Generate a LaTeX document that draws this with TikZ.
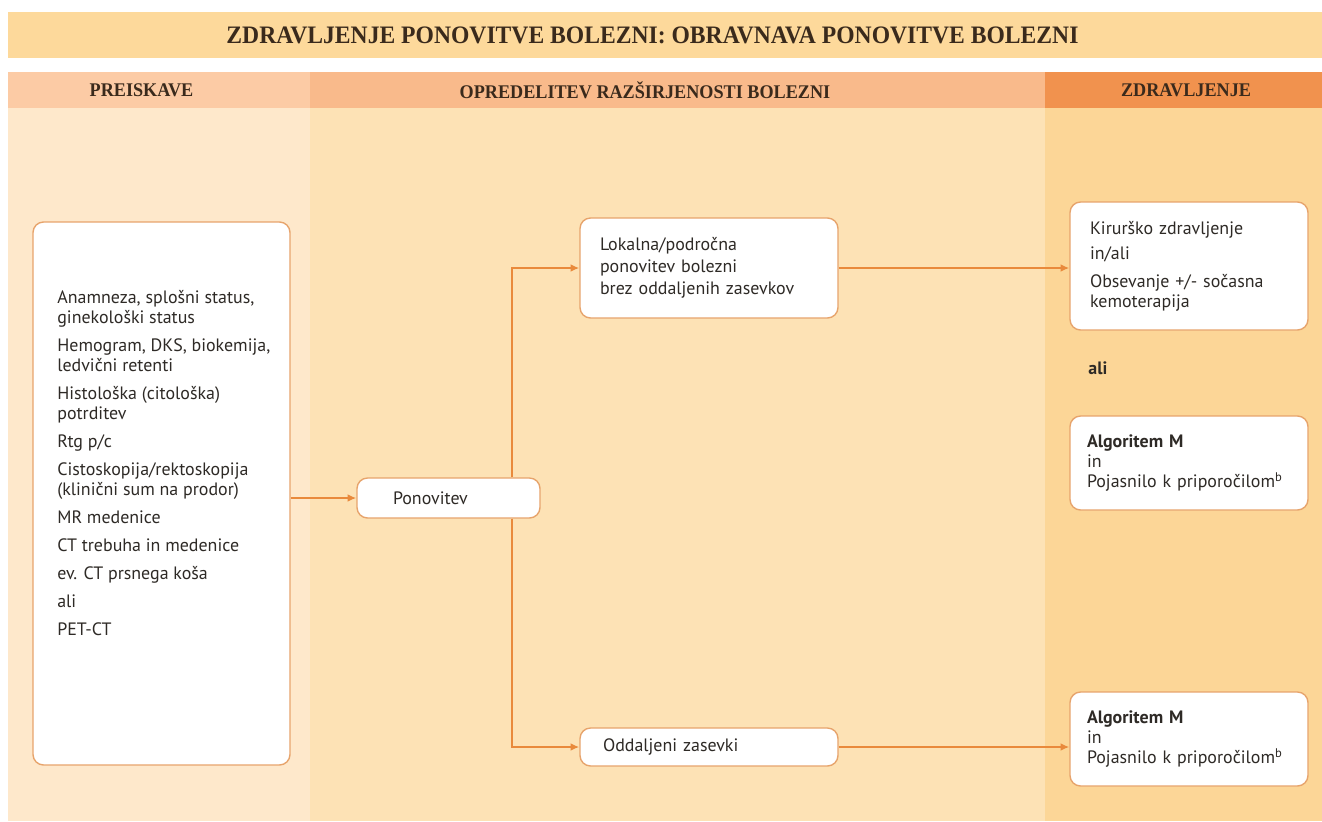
\documentclass[tikz,border=0pt]{standalone}
\usepackage{xcolor}
\usepackage{fontspec}
\usepackage{tikz}
\usetikzlibrary{arrows.meta}

\newfontfamily\bodyfont{PT Sans}
\newfontfamily\headfont[FakeStretch=0.94]{Liberation Serif}

\begin{document}
\begin{tikzpicture}[
  okvir/.style={draw=robBox, fill=white, rounded corners=6pt, line width=0.8pt,
    font=\bodyfont\fontsize{10.2}{11.4}\selectfont, text=besedilo, align=left,
    inner ysep=0pt},
  puscica/.style={draw=puscBarva, line width=1.1pt, -{Latex[length=5pt,width=4.5pt]}},
  naslov/.style={text=naslovBarva, inner sep=0pt}
]

% Barve ozadja in okvirjev
\definecolor{pasNaslov}{HTML}{FDD99B}
\definecolor{glavaLevo}{HTML}{FCCBA5}
\definecolor{glavaSredina}{HTML}{F9BA8B}
\definecolor{glavaDesno}{HTML}{F1924E}
\definecolor{stolpLevo}{HTML}{FEE8CB}
\definecolor{stolpSredina}{HTML}{FDE2B5}
\definecolor{stolpDesno}{HTML}{FCD697}
\definecolor{robBox}{HTML}{E7A46C}
\definecolor{puscBarva}{HTML}{E98A3C}
\definecolor{besedilo}{HTML}{2E2A26}
\definecolor{naslovBarva}{HTML}{3A2A1C}

\useasboundingbox (0,0) rectangle (26.44,-16.42);

% Ozadje
\fill[pasNaslov] (0.16,-0.24) rectangle (26.44,-1.16);
\fill[glavaLevo] (0.16,-1.44) rectangle (6.2,-2.16);
\fill[glavaSredina] (6.2,-1.44) rectangle (20.9,-2.16);
\fill[glavaDesno] (20.9,-1.44) rectangle (26.44,-2.16);
\fill[stolpLevo] (0.16,-2.16) rectangle (6.2,-16.42);
\fill[stolpSredina] (6.2,-2.16) rectangle (20.9,-16.42);
\fill[stolpDesno] (20.9,-2.16) rectangle (26.44,-16.42);

% Naslovi
\node[naslov, font=\headfont\bfseries\fontsize{14.3}{15}\selectfont] (title) at (13.05,-0.70)
  {ZDRAVLJENJE PONOVITVE BOLEZNI: OBRAVNAVA PONOVITVE BOLEZNI};
\node[naslov, font=\headfont\bfseries\fontsize{11}{12}\selectfont] (hPre) at (2.83,-1.80) {PREISKAVE};
\node[naslov, font=\headfont\bfseries\fontsize{11}{12}\selectfont] (hOpr) at (12.90,-1.80) {OPREDELITEV RAZŠIRJENOSTI BOLEZNI};
\node[naslov, font=\headfont\bfseries\fontsize{11}{12}\selectfont] (hZdr) at (23.72,-1.80) {ZDRAVLJENJE};

% Preiskave
\node[okvir, minimum width=5.14cm, minimum height=10.86cm] (prei) at (3.23,-9.87) {};
\node[font=\bodyfont\fontsize{10.2}{11.4}\selectfont, text=besedilo, align=left, anchor=north west, inner sep=0pt] (preiText) at (1.14,-5.80)
  {Anamneza, splošni status,\\ ginekološki status\\[4.5pt]
   Hemogram, DKS, biokemija,\\ ledvični retenti\\[4.5pt]
   Histološka (citološka)\\ potrditev\\[4.5pt]
   Rtg p/c\\[4.5pt]
   Cistoskopija/rektoskopija\\ (klinični sum na prodor)\\[4.5pt]
   MR medenice\\[4.5pt]
   CT trebuha in medenice\\[4.5pt]
   ev. CT prsnega koša\\[4.5pt]
   ali\\[4.5pt]
   PET-CT};

% Opredelitev razsirjenosti
\node[okvir, text width=2.22cm, inner xsep=0.72cm, minimum height=0.8cm] (ponov) at (8.97,-9.96) {Ponovitev};
\node[okvir, text width=4.36cm, inner xsep=0.4cm, minimum height=2.0cm,
  font=\bodyfont\fontsize{10.2}{12.4}\selectfont] (lokal) at (14.18,-5.36)
  {Lokalna/področna\\ ponovitev bolezni\\ brez oddaljenih zasevkov};
\node[okvir, text width=4.24cm, inner xsep=0.46cm, minimum height=0.76cm] (oddal) at (14.18,-14.94) {Oddaljeni zasevki};
\coordinate (split) at (10.24,-9.96);

% Zdravljenje
\node[okvir, text width=3.96cm, inner xsep=0.4cm, minimum height=2.56cm] (kir) at (23.78,-5.32)
  {Kirurško zdravljenje\\[3pt] in/ali\\[4.5pt] Obsevanje +/- sočasna\\ kemoterapija};
\node[font=\bodyfont\bfseries\fontsize{10.2}{11.4}\selectfont, text=besedilo, anchor=west, inner sep=0pt] (ali) at (21.76,-7.36) {ali};
\node[okvir, text width=4.08cm, inner xsep=0.34cm, minimum height=1.88cm] (alg1) at (23.78,-9.26)
  {\textbf{Algoritem M}\\ in\\ Pojasnilo k priporočilom\textsuperscript{b}};
\node[okvir, text width=4.08cm, inner xsep=0.34cm, minimum height=1.88cm] (alg2) at (23.78,-14.78)
  {\textbf{Algoritem M}\\ in\\ Pojasnilo k priporočilom\textsuperscript{b}};

% Povezave
\draw[puscica] (prei.east |- ponov.west) -- (ponov.west);
\draw[puscica] (split |- ponov.north) |- (lokal.west);
\draw[puscica] (split |- ponov.south) |- (oddal.west);
\draw[puscica] (lokal.east) -- (lokal.east -| kir.west);
\draw[puscica] (oddal.east) -- (oddal.east -| alg2.west);

\end{tikzpicture}
\end{document}
